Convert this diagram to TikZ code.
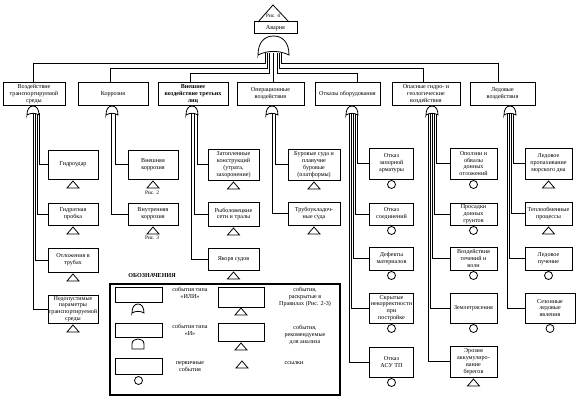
\documentclass[tikz,border=0pt]{standalone}
\usepackage{fontspec}
\setmainfont{Liberation Serif}
\usetikzlibrary{positioning, calc}

\newcommand{\fs}{\fontsize{6.1}{6.9}\selectfont}
\newcommand{\fsmall}{\fontsize{5.3}{6.2}\selectfont}

\begin{document}
\begin{tikzpicture}[x=1pt, y=-1pt,
    box/.style={draw, line width=1pt, fill=white, align=center, inner sep=0.5pt, font=\fs},
    cat/.style={box, minimum height=23pt, anchor=north},
    wire/.style={line width=0.6pt},
    orgate/.pic={\draw[line width=0.8pt, fill=white] (-0.5,1) .. controls (-0.5,0.35) and (-0.3,0) .. (0,0)
        .. controls (0.3,0) and (0.5,0.35) .. (0.5,1) .. controls (0.2,0.75) and (-0.2,0.75) .. cycle;},
    andgate/.pic={\draw[line width=0.8pt, fill=white] (-0.5,1) -- (-0.5,0.5) .. controls (-0.5,0.15) and (-0.25,0) .. (0,0)
        .. controls (0.25,0) and (0.5,0.15) .. (0.5,0.5) -- (0.5,1) -- cycle;},
    tri/.pic={\draw[line width=0.8pt, fill=white] (0,0) -- (6,7) -- (-6,7) -- cycle;},
    prim/.pic={\draw[line width=0.8pt, fill=white] (0,4) circle[radius=4pt];}
  ]
    \useasboundingbox (0,0) rectangle (580,401);

    % top event
    \node[box, minimum width=43pt, minimum height=12pt] (crash) at (275.5,28) {Авария};
    \draw[line width=0.8pt] (258,22) -- (273,5) -- (289,22);
    \node[font=\fsmall, inner sep=0pt] (fig4) at (273,16) {Рис. 4};
    \coordinate (gtop) at (273.5,53);

    % categories
    \node[cat, minimum width=62pt] (cat1) at (34,82) {Воздействие\\транспортируемой\\среды};
    \node[cat, minimum width=70pt] (cat2) at (113,82) {Коррозия};
    \node[cat, minimum width=70pt, font=\fs\bfseries] (cat3) at (193,82) {Внешнее\\воздействие третьих\\лиц};
    \node[cat, minimum width=67pt] (cat4) at (270.5,82) {Операционные\\воздействия};
    \node[cat, minimum width=65pt] (cat5) at (347.5,82) {Отказы оборудования};
    \node[cat, minimum width=68pt] (cat6) at (426,82) {Опасные гидро- и\\геологические\\воздействия};
    \node[cat, minimum width=65pt] (cat7) at (502.5,82) {Ледовые\\воздействия};

    \coordinate (g1) at (33,113);
    \coordinate (g2) at (112,113);
    \coordinate (g3) at (192,113);
    \coordinate (g4) at (272,113);
    \coordinate (g5) at (352,113);
    \coordinate (g6) at (432,113);
    \coordinate (g7) at (510,113);

    % basic events
    \node[box, minimum width=50pt, minimum height=29pt] (c11) at (73,164.5) {Гидроудар};
    \node[box, minimum width=50pt, minimum height=22pt] (c12) at (73,214) {Гидратная\\пробка};
    \node[box, minimum width=50pt, minimum height=24pt] (c13) at (73,260) {Отложения в\\трубах};
    \node[box, minimum width=50pt, minimum height=28pt] (c14) at (73,309) {Недопустимые\\параметры\\транспортируемой\\среды};

    \node[box, minimum width=50pt, minimum height=29pt] (c21) at (153,164.5) {Внешняя\\коррозия};
    \node[box, minimum width=50pt, minimum height=22pt] (c22) at (153,214) {Внутренняя\\коррозия};
    \node[font=\fsmall, inner sep=0pt] (fig2) at (152,193) {Рис. 2};
    \node[font=\fsmall, inner sep=0pt] (fig3) at (152,238) {Рис. 3};

    \node[box, minimum width=51pt, minimum height=31pt] (c31) at (233.5,164.5) {Затопленные\\конструкций\\(утрата,\\захоронение)};
    \node[box, minimum width=51pt, minimum height=24pt] (c32) at (233.5,214) {Рыболовецкие\\сети и тралы};
    \node[box, minimum width=51pt, minimum height=22pt] (c33) at (233.5,259) {Якоря судов};

    \node[box, minimum width=52pt, minimum height=31pt] (c41) at (314,164.5) {Буровые суда и\\плавучие\\буровые\\(платформы)};
    \node[box, minimum width=52pt, minimum height=23pt] (c42) at (314,213.5) {Трубоукладоч-\\ные суда};

    \node[box, minimum width=44pt, minimum height=31pt] (c51) at (391.5,163.5) {Отказ\\запорной\\арматуры};
    \node[box, minimum width=44pt, minimum height=22pt] (c52) at (391.5,214) {Отказ\\соединений};
    \node[box, minimum width=44pt, minimum height=23pt] (c53) at (391.5,258.5) {Дефекты\\материалов};
    \node[box, minimum width=44pt, minimum height=30pt] (c54) at (391.5,308) {Скрытые\\некорректности\\при\\постройке};
    \node[box, minimum width=44pt, minimum height=30pt] (c55) at (391.5,362) {Отказ\\АСУ ТП};

    \node[box, minimum width=47pt, minimum height=31pt] (c61) at (473.5,163.5) {Оползни и\\обвалы\\донных\\отложений};
    \node[box, minimum width=47pt, minimum height=22pt] (c62) at (473.5,214) {Просадки\\донных\\грунтов};
    \node[box, minimum width=47pt, minimum height=23pt] (c63) at (473.5,258.5) {Воздействия\\течений и\\волн};
    \node[box, minimum width=47pt, minimum height=30pt] (c64) at (473.5,308) {Землетрясения};
    \node[box, minimum width=47pt, minimum height=31pt] (c65) at (473.5,361.5) {Эрозия\\аккумулиро-\\вание\\берегов};

    \node[box, minimum width=47pt, minimum height=31pt] (c71) at (548.5,163.5) {Ледовое\\пропахивание\\морского дна};
    \node[box, minimum width=47pt, minimum height=23pt] (c72) at (548.5,213.5) {Теплообменные\\процессы};
    \node[box, minimum width=47pt, minimum height=23pt] (c73) at (548.5,258.5) {Ледовое\\пучение};
    \node[box, minimum width=50pt, minimum height=30pt] (c74) at (550,308) {Сезонные\\ледовые\\явления};

    % top gate to categories
    \draw[wire] ([xshift=-8pt]gtop) -- ++(0,10) -| ([xshift=-1pt]cat1.north);
    \draw[wire] ([xshift=-6pt]gtop) -- ++(0,15) -| ([xshift=-3pt]cat2.north);
    \draw[wire] ([xshift=-4pt]gtop) -- ++(0,20) -| ([xshift=-3pt]cat3.north);
    \draw[wire] (gtop) -- (gtop |- cat4.north);
    \draw[wire] ([xshift=4pt]gtop) -- ++(0,20) -| ([xshift=10pt]cat5.north);
    \draw[wire] ([xshift=6pt]gtop) -- ++(0,15) -| ([xshift=-3pt]cat6.north);
    \draw[wire] ([xshift=8pt]gtop) -- ++(0,10) -| ([xshift=-4pt]cat7.north);

    % categories to basic events
    \draw[wire] ([xshift=6pt]g1) |- (c11.west);
    \draw[wire] ([xshift=4pt]g1) |- (c12.west);
    \draw[wire] ([xshift=2pt]g1) |- (c13.west);
    \draw[wire] (g1) |- (c14.west);
    \draw[wire] ([xshift=3pt]g2) |- (c21.west);
    \draw[wire] ([xshift=-1pt]g2) |- (c22.west);
    \draw[wire] ([xshift=5pt]g3) |- (c31.west);
    \draw[wire] ([xshift=2pt]g3) |- (c32.west);
    \draw[wire] ([xshift=-1pt]g3) |- (c33.west);
    \draw[wire] ([xshift=3pt]g4) |- (c41.west);
    \draw[wire] (g4) |- (c42.west);
    \draw[wire] ([xshift=5pt]g5) |- (c51.west);
    \draw[wire] ([xshift=3pt]g5) |- (c52.west);
    \draw[wire] ([xshift=1pt]g5) |- (c53.west);
    \draw[wire] ([xshift=-1pt]g5) |- (c54.west);
    \draw[wire] ([xshift=-3pt]g5) |- (c55.west);
    \draw[wire] ([xshift=4pt]g6) |- (c61.west);
    \draw[wire] ([xshift=2pt]g6) |- (c62.west);
    \draw[wire] (g6) |- (c63.west);
    \draw[wire] ([xshift=-2pt]g6) |- (c64.west);
    \draw[wire] ([xshift=-4pt]g6) |- (c65.west);
    \draw[wire] ([xshift=3pt]g7) |- (c71.west);
    \draw[wire] ([xshift=1pt]g7) |- (c72.west);
    \draw[wire] ([xshift=-1pt]g7) |- (c73.west);
    \draw[wire] ([xshift=-3pt]g7) |- (c74.west);

    % gates
    \pic[xscale=31, yscale=19] at (273.5,36) {orgate};
    \foreach \x in {33,112,192,272,352,432,510}
      \pic[xscale=12, yscale=9] at (\x,106) {orgate};

    % symbols under events
    \foreach \n in {c11,c12,c13,c14,c21,c22,c31,c32,c33,c41,c42,c65,c71,c72}
      \pic at ([yshift=-1.5pt]\n.south) {tri};
    \foreach \n in {c51,c52,c53,c54,c55,c61,c62,c63,c64,c73,c74}
      \pic at ([yshift=-1pt]\n.south) {prim};

    % legend
    \node[font=\fs\bfseries] (legtitle) at (152,276) {ОБОЗНАЧЕНИЯ};
    \node[draw, line width=1.2pt, minimum width=230pt, minimum height=111pt] (legend) at (225,339.5) {};
    \node[box, minimum width=47pt, minimum height=15pt] (lor) at (138.5,294.5) {};
    \node[box, minimum width=47pt, minimum height=14pt] (land) at (138.5,330) {};
    \node[box, minimum width=47pt, minimum height=16pt] (lprim) at (138.5,366) {};
    \pic[xscale=12, yscale=9] at (138,304) {orgate};
    \pic[xscale=12, yscale=10] at (138,339) {andgate};
    \pic at ([yshift=-2pt]lprim.south) {prim};
    \node[font=\fs, align=center] (lortxt) at (190,293) {события типа\\«ИЛИ»};
    \node[font=\fs, align=center] (landtxt) at (190,330) {события типа\\«И»};
    \node[font=\fs, align=center] (lprimtxt) at (190,367) {первичные\\события};

    \node[box, minimum width=46pt, minimum height=20pt] (lrule) at (241,297.5) {};
    \node[box, minimum width=46pt, minimum height=18pt] (lrec) at (241,332) {};
    \coordinate (lref) at (242,361);
    \pic at (lrule.south) {tri};
    \pic at ([yshift=-1.5pt]lrec.south) {tri};
    \pic at (lref) {tri};
    \node[font=\fs, align=center] (lruletxt) at (305,297) {события,\\раскрытые в\\Правилах (Рис. 2-3)};
    \node[font=\fs, align=center] (lrectxt) at (305,335) {события,\\рекомендуемые\\для анализа};
    \node[font=\fs] (lreftxt) at (294,363) {ссылки};

\end{tikzpicture}
\end{document}
